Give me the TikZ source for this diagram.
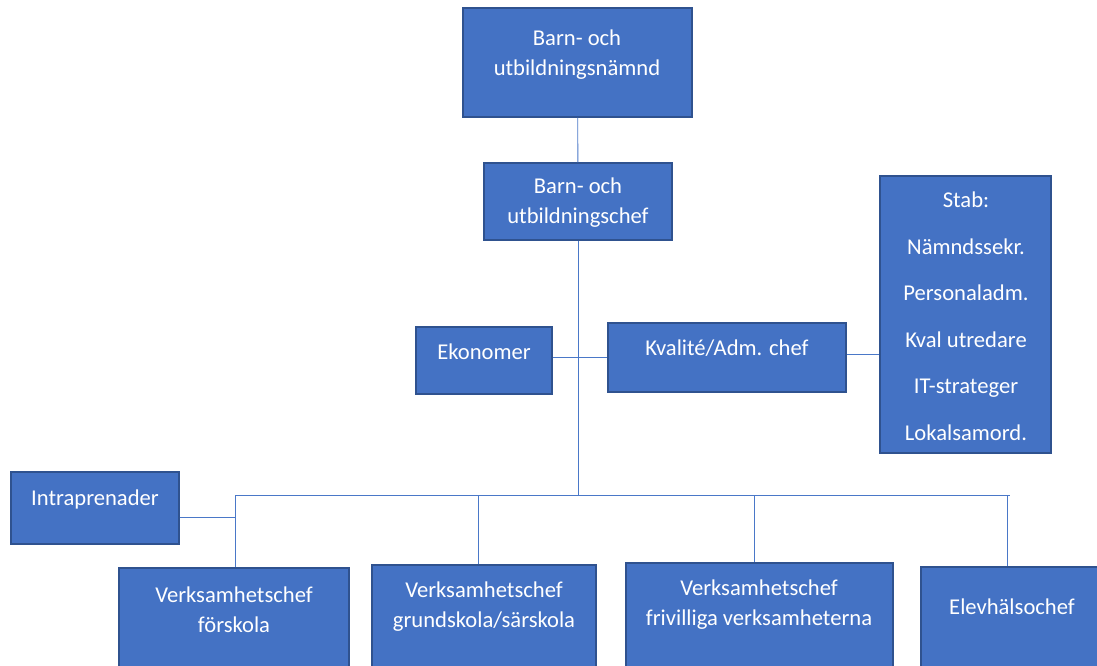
\documentclass[tikz,border=0pt]{standalone}
\usepackage{fontspec}
\setmainfont{Carlito}
\usepackage{xcolor}
\usepackage{tikz}
\usetikzlibrary{positioning}

\definecolor{boxblue}{HTML}{4472C4}
\definecolor{boxedge}{HTML}{2F528F}
\definecolor{lineblue}{HTML}{4A78C8}
\newcommand{\orgfont}{\fontsize{22.6}{30}\selectfont}

\tikzset{
    orgbox/.style={draw=boxedge, fill=boxblue, line width=1.2pt, inner sep=0pt},
    orgtext/.style={text=white, align=center, font=\orgfont, inner sep=0pt},
    orgline/.style={draw=lineblue, line width=0.9pt},
}

\begin{document}
\begin{tikzpicture}[x=1pt, y=-1pt]
        \useasboundingbox (0,0) rectangle (1097,665);
        \clip (0,0) rectangle (1097,665);

        \node[orgbox, minimum width=229, minimum height=109] (bun)   at (577.5,62.5)  {};
        \node[orgbox, minimum width=188, minimum height=77]  (buc)   at (578,201.5)   {};
        \node[orgbox, minimum width=136, minimum height=67]  (eko)   at (484,360.5)   {};
        \node[orgbox, minimum width=238, minimum height=69]  (kva)   at (727,357.5)   {};
        \node[orgbox, minimum width=171, minimum height=277] (stab)  at (965.5,314.5) {};
        \node[orgbox, minimum width=168, minimum height=72]  (intra) at (95,508)      {};
        \node[orgbox, minimum width=230, minimum height=120] (fsk)   at (234,628)     {};
        \node[orgbox, minimum width=224, minimum height=120] (grs)   at (484,625)     {};
        \node[orgbox, minimum width=267, minimum height=120] (friv)  at (759.5,623)   {};
        \node[orgbox, minimum width=209, minimum height=120] (elev)  at (1025.5,627)  {};

        \node[orgtext] (bun-t)   at (577,55)    {Barn- och\\utbildningsnämnd};
        \node[orgtext] (buc-t)   at (578,202.5) {Barn- och\\utbildningschef};
        \node[orgtext] (eko-t)   at (484,352)   {Ekonomer};
        \node[orgtext] (kva-t)   at (727,348)   {Kvalité/Adm. chef};
        \node[orgtext] (stab-t)  at (966,316)
            {Stab:\\[16.5pt] Nämndssekr.\\[16.5pt]Personaladm.\\[16.5pt]Kval utredare\\[16.5pt]IT-strateger\\[16.5pt]Lokalsamord.};
        \node[orgtext] (intra-t) at (95,499)    {Intraprenader};
        \node[orgtext] (fsk-t)   at (234,610)   {Verksamhetschef\\förskola};
        \node[orgtext] (grs-t)   at (484,607)   {Verksamhetschef\\grundskola/särskola};
        \node[orgtext] (friv-t)  at (759,604.5) {Verksamhetschef\\frivilliga verksamheterna};
        \node[orgtext] (elev-t)  at (1012,607)  {Elevhälsochef};

        \coordinate (bus)  at (578,495);
        \coordinate (busl) at (235,495);
        \coordinate (busr) at (1010,495);
        \coordinate (d1) at (235,495);
        \coordinate (d2) at (478,495);
        \coordinate (d3) at (754,495);
        \coordinate (d4) at (1007,495);

        \draw[orgline] (bun) -- (buc);
        \draw[orgline] (buc.south) -- (bus);
        \draw[orgline] (eko.east |- kva.west) -- (kva.west);
        \draw[orgline] ([yshift=3pt]kva.east) -- ([yshift=3pt]kva.east -| stab.west);
        \draw[orgline] (busl) -- (busr);
        \draw[orgline] (d1) -- (d1 |- fsk.north);
        \draw[orgline] (d2) -- (d2 |- grs.north);
        \draw[orgline] (d3) -- (d3 |- friv.north);
        \draw[orgline] (d4) -- (d4 |- elev.north);
        \draw[orgline] ([yshift=-9pt]intra.east) -- ([yshift=-9pt]intra.east -| d1);
\end{tikzpicture}
\end{document}
